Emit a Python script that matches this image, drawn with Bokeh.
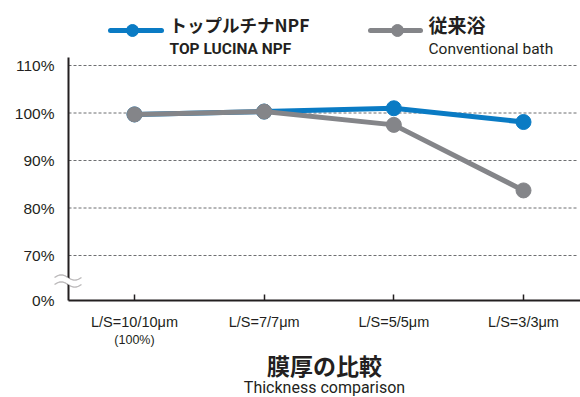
import numpy as np
from bokeh.plotting import figure
from bokeh.models import (Range1d, FixedTicker, CustomJSTickFormatter, Label,
                          PolyAnnotation)
from bokeh.embed import file_html
from bokeh.resources import INLINE

# ---------------- data ----------------
categories = ["L/S=10/10μm", "L/S=7/7μm", "L/S=5/5μm", "L/S=3/3μm"]
top_lucina = [99.7, 100.3, 101.0, 98.1]
conventional = [99.7, 100.3, 97.5, 83.7]
y_ticks = [70, 80, 90, 100, 110]
series_jp = ["トップルチナNPF", "従来浴"]
series_en = ["TOP LUCINA NPF", "Conventional bath"]
title_jp = "膜厚の比較"
title_en = "Thickness comparison"
first_note = "(100%)"

# ---------------- layout ----------------
W, H = 580, 397
# pixel anchors of the plotting area
PX_LEFT, PX_RIGHT, PX_TOP, PX_BOTTOM = 68, 580, 57, 300
X_PX0, X_UNIT = 134.0, 129.67        # px of first category, px per category
Y_PX100, Y_UNIT = 112.5, 4.75        # px of 100 %, px per 1 %


def dx(px):
    return (px - X_PX0) / X_UNIT


def dy(py):
    return 100 - (py - Y_PX100) / Y_UNIT


XA0, XA1 = dx(PX_LEFT), dx(PX_RIGHT)      # extent of x axis
YA0, YA1 = dy(PX_BOTTOM), dy(PX_TOP)      # extent of y axis (YA0 carries "0%")

BLUE = "#0A7BC4"
GRAY = "#848589"
INK = "#231F20"
COND = "Roboto"

p = figure(width=W, height=H, output_backend="svg", toolbar_location=None,
           x_range=Range1d(dx(0), dx(W)), y_range=Range1d(dy(H), dy(0)),
           min_border=0)
p.outline_line_color = None
p.background_fill_color = "white"
p.border_fill_color = "white"
p.xgrid.visible = False
p.ygrid.visible = False

# y axis
ya = p.yaxis[0]
ya.fixed_location = XA0
ya.bounds = (YA0, YA1)
ya.ticker = FixedTicker(ticks=[YA0] + y_ticks)
ya.formatter = CustomJSTickFormatter(code="return tick < 65 ? '0%' : tick.toFixed(0) + '%';")
ya.axis_line_color = INK
ya.axis_line_width = 2
ya.major_tick_line_color = None
ya.minor_tick_line_color = None
ya.major_tick_out = 0
ya.major_tick_in = 0
ya.major_label_standoff = 14
ya.major_label_text_font = "Liberation Sans"
ya.major_label_text_font_size = "15.5px"
ya.major_label_text_color = INK

# x axis
xa = p.xaxis[0]
xa.fixed_location = YA0
xa.bounds = (XA0, XA1)
xa.ticker = FixedTicker(ticks=list(range(len(categories))))
xa.formatter = CustomJSTickFormatter(args=dict(labels=categories),
                                     code="return labels[Math.round(tick)];")
xa.axis_line_color = INK
xa.axis_line_width = 2
xa.major_tick_line_color = INK
xa.major_tick_line_width = 1.5
xa.major_tick_in = 6
xa.major_tick_out = 0
xa.minor_tick_line_color = None
xa.major_label_standoff = 13
xa.major_label_text_font = "Liberation Sans"
xa.major_label_text_font_size = "14.5px"
xa.major_label_text_color = INK

# horizontal dashed grid lines at the y ticks
p.segment(x0=[XA0] * len(y_ticks), x1=[dx(578)] * len(y_ticks), y0=y_ticks, y1=y_ticks,
          line_color="#6d6e71", line_dash="3 2", line_width=1)

# series
xs = list(range(len(categories)))
p.line(xs, top_lucina, line_width=5, color=BLUE, line_join="round")
p.scatter(xs, top_lucina, size=15, color=BLUE)
p.line(xs, conventional, line_width=5, color=GRAY, line_join="round")
p.scatter(xs, conventional, size=15, color=GRAY)

# axis break (decoration)
t = np.linspace(0, 1, 25)
bx = 54 + 27 * t
w1 = 277 - 2.6 * np.sin(2 * np.pi * t)
w2 = 284 - 2.6 * np.sin(2 * np.pi * t)
p.add_layout(PolyAnnotation(xs=[dx(v) for v in list(bx) + list(bx[::-1])],
                            ys=[dy(v) for v in list(w1) + list(w2[::-1])],
                            fill_color="white", fill_alpha=1, line_alpha=0))
for wv in (w1, w2):
    p.add_layout(PolyAnnotation(xs=[dx(v) for v in list(bx) + list(bx[::-1])],
                                ys=[dy(v) for v in list(wv) + list(wv[::-1])],
                                fill_alpha=0, line_color=INK, line_width=1.3))

# legend (decoration)
for (lx0, lx1, mx, col, jp, en, jsize, esize, estyle) in [
        (108, 163, 132, BLUE, series_jp[0], series_en[0], "17.5px", "15.5px", "bold"),
        (368, 422, 397, GRAY, series_jp[1], series_en[1], "19px", "15.5px", "normal")]:
    p.line([dx(lx0 + 2), dx(lx1 - 2)], [dy(30), dy(30)], line_width=5, color=col,
           line_cap="round")
    p.scatter([dx(mx)], [dy(30)], size=12, color=col)
    tx = lx1 + 6
    p.add_layout(Label(x=dx(tx), y=dy(23.5), text=jp, text_font="Noto Sans CJK JP",
                       text_font_style="bold", text_font_size=jsize, text_baseline="middle",
                       text_color=INK))
    p.add_layout(Label(x=dx(tx), y=dy(48), text=en, text_font=COND,
                       text_font_style=estyle, text_font_size=esize,
                       text_baseline="alphabetic", text_color=INK))

# note under first category
p.add_layout(Label(x=0, y=dy(339), text=first_note, text_font="Liberation Sans",
                   text_font_size="12.5px", text_align="center", text_baseline="middle",
                   text_color=INK))

# titles
p.add_layout(Label(x=dx(324), y=dy(364), text=title_jp, text_font="Noto Sans CJK JP",
                   text_font_style="bold", text_font_size="23px", text_align="center",
                   text_baseline="middle", text_color=INK))
p.add_layout(Label(x=dx(324), y=dy(387), text=title_en, text_font=COND,
                   text_font_size="16px", text_align="center", text_baseline="middle",
                   text_color=INK))

open("out.html", "w").write(file_html(p, INLINE))
